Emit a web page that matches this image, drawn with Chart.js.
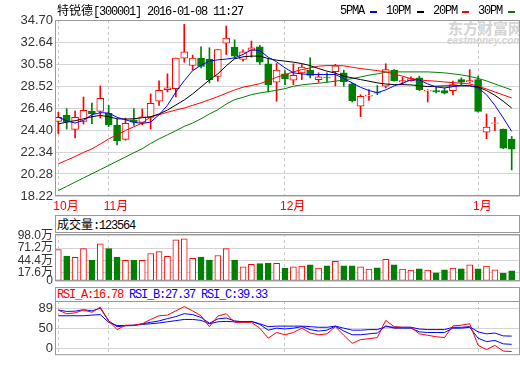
<!DOCTYPE html>
<html lang="zh-CN">
<head>
<meta charset="UTF-8">
<title>特锐德[300001] 日K线</title>
<script src="https://cdn.jsdelivr.net/npm/chart.js"></script>
<style>
  body { margin: 0; background: #fff; }
  #wrap { position: relative; width: 520px; height: 365px; overflow: hidden; }
  canvas { position: absolute; left: 0; }
  .t { position: absolute; white-space: nowrap; font-size: 12px; line-height: 14px; color: #000; }
  .m { font-family: 'Liberation Mono', monospace; letter-spacing: -1.2px; }
  .c { font-family: 'Noto Sans CJK SC', sans-serif; }
  .dash { position: absolute; width: 7px; height: 2px; top: 11px; }
  .hdr { position: absolute; left: 55px; width: 465px; box-sizing: border-box; border: 1px solid #999; background: #fff; }
  .wm { position: absolute; color: #d4d4d4; font-weight: bold; white-space: nowrap; }
</style>
</head>
<body>
<div id="wrap">
  <div class="wm" style="left:448px;top:19px;font-size:15px;line-height:18px;font-family:'Noto Sans CJK SC';">东方财富网</div>
  <div class="wm" style="left:447px;top:36px;font-size:10px;line-height:10px;font-family:'Liberation Sans';font-style:italic;">eastmoney.com</div>

  <canvas id="priceChart" width="520" height="215" style="top:0"></canvas>
  <canvas id="volChart" width="520" height="64" style="top:226px"></canvas>
  <canvas id="rsiChart" width="520" height="75" style="top:290px"></canvas>

  <div class="t" style="left:57px;top:3px;"><span class="c">特锐德</span><span class="m">[300001] 2016-01-08 11:27</span></div>
  <div class="t m" style="left:340px;top:4px;">5PMA</div><div class="dash" style="left:370px;background:#00f"></div>
  <div class="t m" style="left:386px;top:4px;">10PM</div><div class="dash" style="left:417px;background:#000"></div>
  <div class="t m" style="left:433px;top:4px;">20PM</div><div class="dash" style="left:462px;background:#f00"></div>
  <div class="t m" style="left:478px;top:4px;">30PM</div><div class="dash" style="left:508px;background:#008000"></div>

  <div class="hdr" style="top:215px;height:18px;">
    <div class="t" style="left:1px;top:1px;"><span class="c">成交量</span><span class="m" id="volText"></span></div>
  </div>
  <div class="hdr" style="top:287px;height:15px;">
    <div class="t m" style="left:1px;top:0px;"><span id="rsiAText" style="color:#f00"></span> <span id="rsiBText" style="color:#00f"></span> <span id="rsiCText" style="color:#00f"></span></div>
  </div>
</div>

<script>
  // trading days, 2015-10-23 .. 2016-01-08
  const dates = ['10-23','10-26','10-27','10-28','10-29','10-30',
    '11-02','11-03','11-04','11-05','11-06','11-09','11-10','11-11','11-12','11-13','11-16','11-17','11-18','11-19','11-20','11-23','11-24','11-25','11-26','11-27','11-30',
    '12-01','12-02','12-03','12-04','12-07','12-08','12-09','12-10','12-11','12-14','12-15','12-16','12-17','12-18','12-21','12-22','12-23','12-24','12-25','12-28','12-29','12-30','12-31',
    '01-04','01-05','01-06','01-07','01-08'];

  const open  = [25.21,25.77,24.46,25.21,26.15,26.15,25.96,24.86,23.52,25.36,25.12,25.58,27.09,28.18,28.28,31.13,30.44,31.13,31.03,29.41,32.54,32.16,31.00,31.85,32.19,30.60,28.87,29.66,29.06,29.75,30.00,29.12,29.30,29.87,29.75,28.72,26.62,27.56,27.90,28.50,30.00,28.90,29.03,29.28,28.06,28.09,28.09,28.09,29.12,28.90,29.12,24.20,25.02,24.49,23.55];
  const high  = [26.05,26.40,26.18,27.49,26.93,28.53,26.71,25.43,25.52,26.40,26.37,27.78,29.00,29.66,31.13,34.29,31.41,32.19,32.10,31.94,34.14,32.85,31.90,32.73,32.32,31.10,30.63,29.97,30.60,30.53,31.16,29.75,29.75,30.55,30.00,28.80,27.70,28.18,28.56,30.60,30.06,29.34,29.37,29.44,28.18,28.40,28.34,28.97,29.28,30.06,29.44,25.90,25.58,24.49,23.80];
  const low   = [24.05,24.49,23.67,24.96,24.99,25.52,24.71,23.01,23.45,24.83,24.89,24.49,26.71,27.96,27.49,30.75,30.00,30.22,28.81,28.97,31.47,31.10,30.85,31.22,30.53,27.96,27.09,28.65,28.65,29.12,29.28,28.87,28.90,28.53,28.50,27.02,25.65,27.18,27.71,28.34,28.97,28.65,28.97,28.09,27.02,27.87,27.78,27.71,28.65,28.81,26.08,23.58,24.33,22.65,20.66];
  const close = [25.58,25.14,25.58,26.24,25.93,27.37,24.89,23.39,25.02,25.14,25.64,26.90,28.12,28.34,31.13,31.72,31.13,30.35,29.12,31.94,33.01,31.32,31.72,32.10,30.75,28.65,30.00,29.19,29.53,30.28,29.50,29.37,29.28,30.41,28.90,27.15,27.56,27.68,27.84,30.06,29.03,29.03,29.22,28.18,28.12,27.96,27.84,28.65,28.87,29.03,26.15,24.67,25.08,22.70,22.61];

  const ma5  = [25.59,25.27,25.05,25.30,25.83,26.02,25.99,25.59,25.36,25.12,25.02,25.14,25.83,26.71,27.96,29.02,29.96,30.47,30.85,30.97,31.04,31.16,31.47,31.91,31.84,31.22,30.78,30.22,29.75,29.65,29.59,29.59,29.59,29.59,29.21,28.81,28.40,28.09,27.90,28.15,28.53,28.78,29.09,29.09,28.71,28.43,28.34,28.46,28.59,28.55,28.34,27.71,26.71,25.52,24.27];
  const ma10 = [24.96,25.14,25.27,25.45,25.64,25.77,25.64,25.45,25.42,25.45,25.55,25.64,25.90,26.27,26.74,27.21,27.78,28.43,29.09,29.65,30.41,31.06,31.25,31.32,31.32,31.09,30.94,30.85,30.75,30.62,30.43,30.15,29.91,29.72,29.44,29.28,29.12,28.97,28.81,28.71,28.65,28.65,28.62,28.55,28.46,28.50,28.53,28.53,28.53,28.53,28.43,28.09,27.65,27.09,26.46];
  const ma20 = [21.23,21.57,21.92,22.30,22.63,23.08,23.57,23.95,24.36,24.70,25.05,25.64,25.83,26.06,26.27,26.46,26.71,26.96,27.24,27.52,27.84,28.15,28.41,28.56,28.74,29.02,29.34,29.59,29.84,30.06,30.22,30.38,30.43,30.43,30.41,30.28,30.15,30.06,29.96,29.84,29.65,29.44,29.21,29.09,29.02,28.97,28.90,28.84,28.78,28.71,28.50,28.24,27.96,27.68,27.40];
  const ma30 = [18.73,19.12,19.52,19.91,20.30,20.69,21.08,21.48,21.87,22.27,22.65,23.14,23.57,23.95,24.33,24.74,25.05,25.45,25.90,26.30,26.83,27.24,27.46,27.71,27.87,27.99,28.12,28.27,28.50,28.62,28.71,28.78,28.87,28.97,29.09,29.21,29.37,29.53,29.66,29.81,29.84,29.84,29.84,29.84,29.84,29.80,29.75,29.66,29.56,29.42,29.23,29.00,28.71,28.43,28.15];

  // volume, 万股
  const volume = [67.9,53.7,51.0,70.0,45.3,80.5,70.0,51.6,44.7,44.7,44.7,59.4,63.6,53.1,88.9,91.0,48.9,51.6,45.3,55.2,70.0,45.3,30.6,36.2,37.5,39.0,38.4,27.8,30.6,32.0,34.8,27.8,32.7,42.6,32.7,32.7,30.6,25.7,28.5,46.8,34.8,25.7,23.6,26.3,23.6,17.9,24.2,27.8,26.3,34.8,26.3,32.0,24.2,16.4,22.1];
  const volNow = 123564;

  const rsiA = [77.0,72.0,73.2,77.4,74.1,81.5,61.5,48.8,55.2,55.2,57.3,63.6,69.0,69.9,76.1,82.4,76.1,69.0,53.1,68.6,72.0,59.4,59.4,59.4,50.9,36.3,44.6,41.3,44.6,50.9,43.8,41.3,42.6,53.1,40.5,28.8,34.2,35.5,37.2,62.3,53.1,52.2,52.2,42.6,40.5,38.4,37.2,54.3,55.2,57.3,25.9,19.6,25.9,17.5,16.78];
  const rsiB = [77.4,75.3,75.7,77.8,76.1,79.9,61.5,53.1,54.3,54.7,57.3,59.4,61.5,64.8,67.8,72.0,70.7,66.5,58.1,64.4,65.7,61.5,60.2,60.7,56.4,48.0,50.9,49.7,50.9,53.1,48.8,46.7,48.0,53.9,46.7,41.3,41.3,42.6,43.8,54.3,50.9,50.9,50.9,45.5,44.6,44.6,44.6,50.9,50.9,52.2,36.3,31.3,33.0,28.0,27.37];
  const rsiC = [69.0,69.0,69.0,69.0,69.9,70.7,59.4,54.7,54.7,55.2,56.4,57.3,58.5,60.2,61.9,63.6,63.6,62.3,57.3,60.2,60.7,60.2,60.2,60.7,57.3,53.1,53.9,53.9,53.9,53.9,53.1,52.2,52.2,53.9,50.9,48.0,48.0,48.8,48.8,53.1,52.2,52.2,52.2,49.7,48.8,48.8,48.8,52.2,52.2,53.1,45.5,42.6,43.8,39.6,39.33];

  const priceTicks = [18.22, 20.28, 22.34, 24.40, 26.46, 28.52, 30.58, 32.64, 34.70];
  const volTicks = [0, 17.6, 44.4, 71.2, 98.0];
  const rsiTickText = ['89', '50', '0'];
  const monthTicks = [0, 6, 27, 50];
  const monthLabels = ['10月', '11月', '12月', '1月'];

  const RED = '#ff0000', GREEN = '#008000', BLUE = '#0000ff';

  Chart.defaults.font.family = "'Liberation Sans', 'Noto Sans CJK SC', sans-serif";
  Chart.defaults.font.size = 13;
  Chart.defaults.color = '#333';

  document.getElementById('volText').textContent = ':' + volNow;
  document.getElementById('rsiAText').textContent = 'RSI_A:' + rsiA[rsiA.length - 1].toFixed(2);
  document.getElementById('rsiBText').textContent = 'RSI_B:' + rsiB[rsiB.length - 1].toFixed(2);
  document.getElementById('rsiCText').textContent = 'RSI_C:' + rsiC[rsiC.length - 1].toFixed(2);

  const up = close.map((c, i) => c >= open[i]);
  const pts = arr => arr.map((v, i) => ({ x: i, y: v }));
  const line = (arr, color) => ({
    type: 'line', data: pts(arr), borderColor: color, borderWidth: 1,
    pointRadius: 0, tension: 0, fill: false
  });

  // grey frame round each plot area
  const frame = {
    id: 'frame',
    afterDatasetsDraw(chart) {
      const a = chart.chartArea, ctx = chart.ctx;
      ctx.save();
      ctx.strokeStyle = '#999';
      ctx.lineWidth = 1;
      ctx.strokeRect(a.left + 0.5, a.top + 0.5, a.right - a.left - 1, a.bottom - a.top - 1);
      ctx.restore();
    }
  };

  function xScale(showLabels, h) {
    return {
      type: 'linear', min: -0.393, max: 54.99, offset: false,
      grid: { color: '#c8c8c8', drawTicks: false, offset: false },
      border: { display: false, dash: [3, 3] },
      afterBuildTicks: s => { s.ticks = monthTicks.map(v => ({ value: v })); },
      afterFit: s => { s.height = h; },
      ticks: {
        display: showLabels, autoSkip: false, maxRotation: 0, align: 'start',
        labelOffset: -5, padding: 3, color: RED, font: { size: 12 },
        callback: v => monthLabels[monthTicks.indexOf(v)]
      }
    };
  }

  function yScale(extra) {
    return Object.assign({
      afterFit: s => { s.width = 55; },
      grid: { color: '#d4d4d4', drawTicks: false },
      border: { display: false }
    }, extra);
  }

  function options(x, y, padTop) {
    return {
      responsive: false, animation: false, events: [],
      layout: { padding: { top: padTop, left: 0, right: 0, bottom: 0 } },
      plugins: { legend: { display: false }, tooltip: { enabled: false } },
      scales: { x: x, y: y }
    };
  }

  new Chart(document.getElementById('priceChart'), {
    type: 'bar',
    data: {
      datasets: [
        line(ma5, BLUE), line(ma10, '#000'), line(ma20, RED), line(ma30, GREEN),
        {
          data: open.map((o, i) => ({ x: i, y: [Math.min(o, close[i]), Math.max(o, close[i])] })),
          backgroundColor: up.map(u => u ? '#fff' : GREEN),
          borderColor: up.map(u => u ? RED : GREEN),
          borderWidth: 1, borderSkipped: false, barThickness: 7, grouped: false
        },
        {
          data: high.map((h, i) => ({ x: i, y: [low[i], h] })),
          backgroundColor: up.map(u => u ? RED : GREEN),
          borderWidth: 0, barThickness: 1, grouped: false
        }
      ]
    },
    options: options(xScale(true, 19), yScale({
      min: 18.22, max: 34.70,
      afterBuildTicks: s => { s.ticks = priceTicks.map(v => ({ value: v })); },
      ticks: { autoSkip: false, padding: 2, color: '#333', callback: v => v.toFixed(2) }
    }), 20),
    plugins: [frame]
  });

  new Chart(document.getElementById('volChart'), {
    type: 'bar',
    data: {
      datasets: [{
        data: pts(volume),
        backgroundColor: up.map(u => u ? '#fff' : GREEN),
        borderColor: up.map(u => u ? RED : GREEN),
        borderWidth: 1, borderSkipped: false, barThickness: 6
      }]
    },
    options: options(xScale(false, 9), yScale({
      min: 0, max: 101.6,
      afterBuildTicks: s => { s.ticks = volTicks.map(v => ({ value: v })); },
      ticks: {
        autoSkip: false, padding: 2, color: '#333', font: { size: 12, lineHeight: 1 },
        callback: v => v === 0 ? '0' : v.toFixed(1) + '万'
      }
    }), 6),
    plugins: [frame]
  });

  new Chart(document.getElementById('rsiChart'), {
    type: 'line',
    data: {
      datasets: [line(rsiA, RED), line(rsiB, BLUE), line(rsiC, BLUE)]
    },
    options: options(xScale(false, 1), yScale({
      min: 11.5, max: 90.5,
      afterBuildTicks: s => { s.ticks = [79.2, 50, 21.0].map(v => ({ value: v })); },
      ticks: { autoSkip: false, padding: 2, color: '#333', callback: (v, i) => rsiTickText[i] }
    }), 11),
    plugins: [frame]
  });
</script>
</body>
</html>
